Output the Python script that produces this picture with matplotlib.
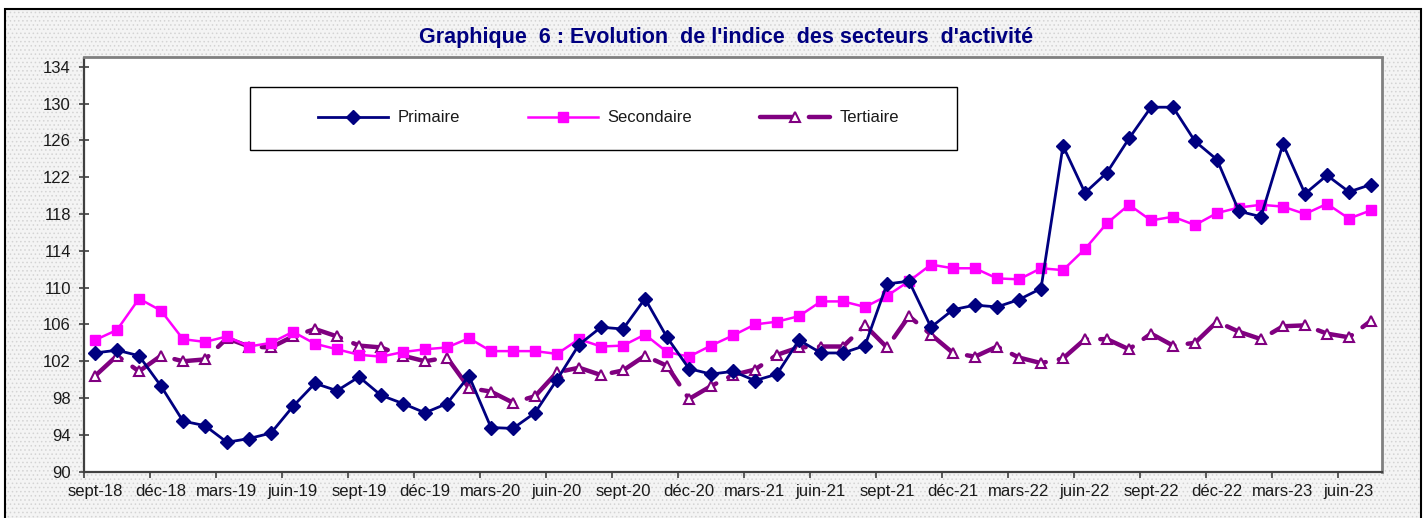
import matplotlib
matplotlib.use("Agg")
import matplotlib.pyplot as plt
from matplotlib.patches import Rectangle

plt.rcParams['font.family'] = ['Liberation Sans', 'DejaVu Sans']
plt.rcParams['hatch.linewidth'] = 0.6

# index mensuel sept-18 .. juil-23
primaire = [102.9, 103.2, 102.6, 99.3, 95.5, 95.0, 93.2, 93.6, 94.2, 97.1, 99.6, 98.8, 100.3, 98.3, 97.4,
            96.4, 97.4, 100.4, 94.8, 94.7, 96.4, 100.0, 103.8, 105.7, 105.5, 108.8, 104.6, 101.2, 100.6, 100.9, 99.9,
            100.6, 104.3, 102.9, 102.9, 103.7, 110.4, 110.7, 105.7, 107.6, 108.1, 107.9, 108.7, 109.9,
            125.4, 120.3, 122.5, 126.2, 129.6, 129.6, 125.9, 123.9, 118.3, 117.7, 125.6, 120.2, 122.2, 120.4, 121.2]
secondaire = [104.3, 105.4, 108.8, 107.5, 104.4, 104.1, 104.7, 103.6, 104.0, 105.2, 103.9, 103.3, 102.7, 102.5, 103.0,
              103.3, 103.5, 104.5, 103.1, 103.1, 103.1, 102.8, 104.4, 103.6, 103.7, 104.9, 103.0, 102.5, 103.7, 104.8, 106.0,
              106.3, 106.9, 108.5, 108.5, 107.9, 109.1, 110.7, 112.5, 112.1, 112.1, 111.0, 110.9, 112.1,
              111.9, 114.2, 117.0, 119.0, 117.3, 117.7, 116.8, 118.1, 118.7, 119.0, 118.8, 118.0, 119.1, 117.5, 118.4]
tertiaire = [100.4, 102.6, 100.9, 102.6, 102.0, 102.2, 104.5, 103.6, 103.5, 104.7, 105.5, 104.7, 103.7, 103.5, 102.6,
             102.0, 102.4, 99.1, 98.7, 97.5, 98.2, 100.8, 101.3, 100.5, 101.0, 102.6, 101.5, 97.9, 99.3, 100.5, 101.1,
             102.7, 103.5, 103.6, 103.6, 105.9, 103.5, 106.9, 104.9, 102.9, 102.5, 103.6, 102.4, 101.8,
             102.3, 104.4, 104.4, 103.3, 105.0, 103.7, 104.0, 106.3, 105.2, 104.4, 105.8, 105.9, 105.0, 104.6, 106.4]
etiquettes = ['sept-18', 'déc-18', 'mars-19', 'juin-19', 'sept-19', 'déc-19', 'mars-20', 'juin-20',
              'sept-20', 'déc-20', 'mars-21', 'juin-21', 'sept-21', 'déc-21', 'mars-22', 'juin-22',
              'sept-22', 'déc-22', 'mars-23', 'juin-23']

W, H = 1426, 518
fig = plt.figure(figsize=(W / 100, H / 100), dpi=100, facecolor='white')

# fond du graphique (trame grise) + cadre noir
fond = Rectangle((5 / W, -0.02), 1416 / W, (H - 9) / H + 0.02, transform=fig.transFigure,
                 facecolor='#f4f4f4', edgecolor='#d4d4d4', hatch='....', lw=0, zorder=-10)
cadre = Rectangle((5 / W, -0.02), 1416 / W, (H - 9) / H + 0.02, transform=fig.transFigure,
                  facecolor='none', edgecolor='black', lw=1.5, zorder=-9)
fig.add_artist(fond)
fig.add_artist(cadre)

ax = fig.add_axes([84 / W, (H - 471.7) / H, (1382 - 84) / W, (471.7 - 57.5) / H])
ax.set_facecolor('white')

x = list(range(len(primaire)))
ax.plot(x, primaire, color='#000080', lw=2, marker='D', ms=7.5, mfc='#000080', mec='#000080',
        label='Primaire', zorder=4)
ax.plot(x, secondaire, color='#FF00FF', lw=1.8, marker='s', ms=7, mfc='#FF00FF', mec='#FF00FF',
        label='Secondaire', zorder=3)
ax.plot(x, tertiaire, color='#800080', lw=3.2, dashes=(8, 3), dash_capstyle='round',
        marker='^', ms=6.5, mfc='white', mec='#800080', mew=1.5, label='Tertiaire', zorder=2)

ax.set_xlim(-0.5, len(primaire) - 0.5)
ax.set_ylim(90, 135)
ax.set_yticks(range(90, 135, 4))
ax.set_xticks(range(0, len(primaire), 3))
ax.set_xticklabels(etiquettes)
ax.set_xticks([i - 0.5 for i in range(0, len(primaire), 3)], minor=True)
ax.tick_params(axis='x', which='major', length=0, pad=9, labelsize=12, labelcolor='#1a1a1a')
ax.tick_params(axis='x', which='minor', direction='out', length=4.5, width=1.2, color='#404040')
ax.tick_params(axis='y', direction='inout', length=7, width=1.2, color='#404040',
               pad=6, labelsize=12, labelcolor='#1a1a1a')

for s in ['left', 'bottom']:
    ax.spines[s].set_color('#404040')
    ax.spines[s].set_linewidth(1.6)
for s in ['top', 'right']:
    ax.spines[s].set_color('#808080')
    ax.spines[s].set_linewidth(2)

# légende
boite = Rectangle((250 / W, 1 - 150 / H), (957 - 250) / W, (150 - 87) / H, transform=fig.transFigure,
                  facecolor='white', edgecolor='black', lw=1, zorder=1)
ax.add_patch(boite)
boite.set_clip_on(False)
ax.legend(loc='center left', bbox_to_anchor=(318 / W, 1 - 118 / H), bbox_transform=fig.transFigure,
          ncol=3, frameon=False, fontsize=12, handlelength=4.2, handletextpad=0.55,
          columnspacing=4.1, borderpad=0, borderaxespad=0, labelcolor='#1a1a1a')

fig.text(726 / W, 1 - 38 / H, "Graphique  6 : Evolution  de l'indice  des secteurs  d'activité",
         ha='center', va='center', fontsize=15.5, fontweight='bold', color='#000080')

fig.savefig('out.png', dpi=100, facecolor='white')
